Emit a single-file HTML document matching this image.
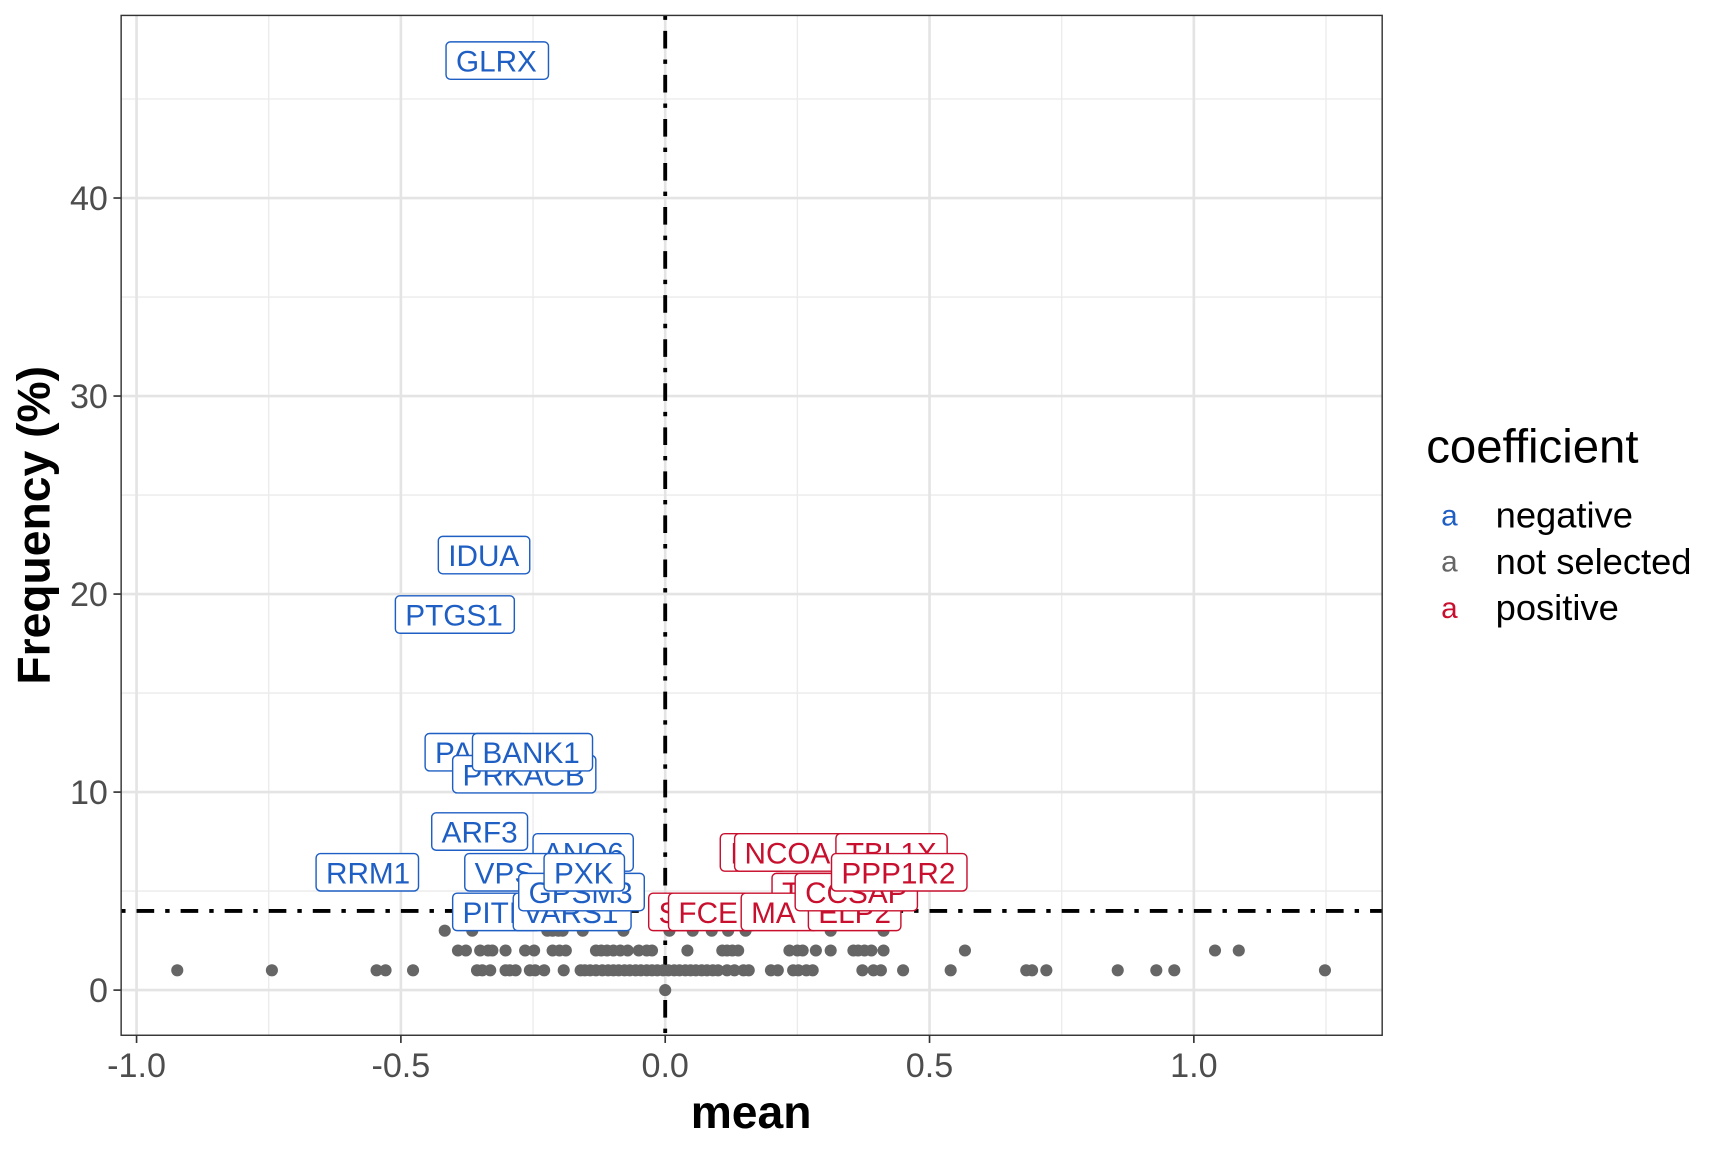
<!DOCTYPE html>
<html><head><meta charset="utf-8"><style>
html,body{margin:0;padding:0;background:#fff}
svg{display:block}
text{font-family:"Liberation Sans",Arial,sans-serif}
</style></head><body>
<svg id="chart" width="1728" height="1152" viewBox="0 0 1569 1046" xmlns="http://www.w3.org/2000/svg">
<rect x="0" y="0" width="1569" height="1046" fill="#fff"/>
<g id="grid"></g>
<g id="refs"></g>
<g id="points"></g>
<g id="labels"></g>
<rect x="110" y="14" width="1145" height="926" fill="none" stroke="#333" stroke-width="1.3"/>
<g id="axes"></g>
<text x="682" y="1024" font-size="42" font-weight="bold" text-anchor="middle" fill="#000">mean</text>
<text transform="translate(45,477) rotate(-90)" font-size="42" font-weight="bold" text-anchor="middle" fill="#000">Frequency (%)</text>
<g>
<text x="1295" y="420" font-size="43" fill="#000">coefficient</text>
<text x="1316" y="477" font-size="27" text-anchor="middle" fill="#1f5fc4">a</text>
<text x="1358" y="479" font-size="33" fill="#000">negative</text>
<text x="1316" y="519" font-size="27" text-anchor="middle" fill="#666">a</text>
<text x="1358" y="521" font-size="33" fill="#000">not selected</text>
<text x="1316" y="561" font-size="27" text-anchor="middle" fill="#c8102e">a</text>
<text x="1358" y="563" font-size="33" fill="#000">positive</text>
</g>
</svg>
<script>
const xTicks=[-1.0,-0.5,0.0,0.5,1.0];
const xTickLabels=["-1.0","-0.5","0.0","0.5","1.0"];
const xMinor=[-0.75,-0.25,0.25,0.75,1.25];
const yTicks=[0,10,20,30,40];
const yTickLabels=["0","10","20","30","40"];
const yMinor=[5,15,25,35,45];
const freq1Means=[-0.923,-0.744,-0.546,-0.529,-0.477,-0.356,-0.346,-0.331,-0.302,-0.294,-0.283,-0.256,-0.246,-0.229,-0.192,-0.160,-0.152,-0.142,-0.131,-0.119,-0.108,-0.098,-0.088,-0.077,-0.067,-0.056,-0.046,-0.035,-0.025,-0.015,-0.004,0.006,0.017,0.027,0.038,0.048,0.058,0.069,0.079,0.090,0.100,0.117,0.131,0.148,0.158,0.200,0.213,0.242,0.252,0.267,0.279,0.373,0.394,0.408,0.450,0.540,0.683,0.694,0.721,0.856,0.929,0.963,1.248];
const freq2Means=[-0.392,-0.377,-0.350,-0.335,-0.327,-0.302,-0.265,-0.248,-0.213,-0.200,-0.188,-0.131,-0.121,-0.110,-0.098,-0.085,-0.071,-0.050,-0.035,-0.025,0.042,0.108,0.117,0.127,0.138,0.235,0.250,0.260,0.285,0.313,0.356,0.365,0.377,0.390,0.413,0.567,1.040,1.085];
const freq3Means=[-0.417,-0.365,-0.223,-0.213,-0.202,-0.194,-0.156,-0.079,0.008,0.052,0.088,0.119,0.152,0.313,0.413];
const freq0Means=[0.0];
const thresholdFreq=4;
const labelTexts=["GLRX","IDUA","PTGS1","PA","PRKACB","BANK1","ARF3","RRM1","ANO6","VPS","PITI","VARS1","GPSM3","PXK","I","NCOA","TBL1X","T","S","FCE","MA","ELP2","CCSAP","PPP1R2"];
const labelSigns=["neg","neg","neg","neg","neg","neg","neg","neg","neg","neg","neg","neg","neg","neg","pos","pos","pos","pos","pos","pos","pos","pos","pos","pos"];
const NS="http://www.w3.org/2000/svg";
const X=v=>604+480*v, Y=v=>899-17.98*v;
function mk(t,a,p){const e=document.createElementNS(NS,t);for(const k in a)e.setAttribute(k,a[k]);(p||document.getElementById('chart')).appendChild(e);return e;}
const grid=document.getElementById('grid');
xMinor.forEach(v=>{const l=mk('line',{x1:X(v),x2:X(v),y1:14,y2:940,stroke:'#ebebeb','stroke-width':1.2},grid);

});
yMinor.forEach(v=>{const l=mk('line',{x1:110,x2:1255,y1:Y(v),y2:Y(v),stroke:'#ebebeb','stroke-width':1.2},grid);

});
xTicks.forEach(v=>{const l=mk('line',{x1:X(v),x2:X(v),y1:14,y2:940,stroke:'#e4e4e4','stroke-width':2.4},grid);

});
yTicks.forEach(v=>{const l=mk('line',{x1:110,x2:1255,y1:Y(v),y2:Y(v),stroke:'#e4e4e4','stroke-width':2.4},grid);

});
const refs=document.getElementById('refs');
const vl=mk('line',{x1:X(0),x2:X(0),y1:14,y2:940,stroke:'#000','stroke-width':3.5,'stroke-dasharray':'4 10 16 10'},refs);


const hl=mk('line',{x1:110,x2:1255,y1:Y(thresholdFreq),y2:Y(thresholdFreq),stroke:'#000','stroke-width':3.5,'stroke-dasharray':'4 10 16 10'},refs);


const pts=document.getElementById('points');
[[freq0Means,0],[freq1Means,1],[freq2Means,2],[freq3Means,3]].forEach(([arr,f])=>arr.forEach(m=>{
const c=mk('circle',{cx:X(m),cy:Y(f),r:5.5,fill:'#666'},pts);

}));
// label boxes: [left, top, width] in layout pixels
const boxes=[[405,38,93],[398,487,83],[359,541,108],[386,666,90],[411,686,130],[429,666,109],[392,738,87],[287,775,93],[484,757,91],[422,775,80],[411,811,80],[466,811,107],[471,793,114],[494,775,73],[654,757,60],[667,757,110],[759,757,101],[701,793,60],[589,811,40],[607,811,80],[673,811,70],[734,811,84],[722,793,111],[755,775,123]];
const lab=document.getElementById('labels');
labelTexts.forEach((t,i)=>{const [x,y,w]=boxes[i];const col=labelSigns[i]==='neg'?'#1f5fc4':'#c8102e';
const g=mk('g',{},lab);


mk('rect',{x:x,y:y,width:w,height:34,rx:4,fill:'#fff',stroke:col,'stroke-width':1.3},g);
const tx=mk('text',{x:x+9,y:y+27,'font-size':27,fill:col},g);tx.textContent=t;});
const axes=document.getElementById('axes');
xTicks.forEach((v,i)=>{mk('line',{x1:X(v),x2:X(v),y1:940,y2:947,stroke:'#333','stroke-width':1.5},axes);
const t=mk('text',{x:X(v),y:978,'font-size':31,'text-anchor':'middle',fill:'#4d4d4d'},axes);t.textContent=xTickLabels[i];

});
yTicks.forEach((v,i)=>{mk('line',{x1:103,x2:110,y1:Y(v),y2:Y(v),stroke:'#333','stroke-width':1.5},axes);
const t=mk('text',{x:98,y:Y(v)+11,'font-size':31,'text-anchor':'end',fill:'#4d4d4d'},axes);t.textContent=yTickLabels[i];

});
</script>
</body></html>
